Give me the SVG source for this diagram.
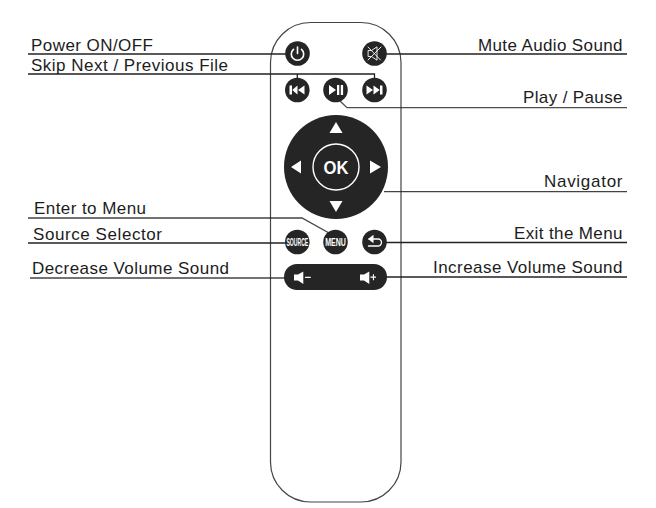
<svg xmlns="http://www.w3.org/2000/svg" width="656" height="508" viewBox="0 0 656 508">
<defs>
<style>
.lbl{font-family:"Liberation Sans",Arial,sans-serif;font-size:17px;fill:#1c1c1c}
.ln{fill:none;stroke:#222;stroke-width:1.3}
.btn{fill:#252525}
.w{fill:#fff}
.ws{fill:none;stroke:#fff;stroke-linecap:round;stroke-linejoin:round}
.btxt{font-family:"Liberation Sans",Arial,sans-serif;font-weight:700;fill:#fff;text-anchor:middle}
</style>
</defs>
<rect width="656" height="508" fill="#fff"/>
<rect id="remote-body" x="270.5" y="22.5" width="130.5" height="479.5" rx="40" ry="40" fill="#fff" stroke="#444" stroke-width="1.2"/>
<g id="connectors">
<path class="ln" d="M28 54H286"/>
<path class="ln" d="M28 74H374.5V79M297.3 74V79"/>
<path class="ln" d="M386 54H627"/>
<path class="ln" d="M340 101L347 107.7H627" stroke-opacity=".8"/>
<path class="ln" d="M384 191.7H627" stroke-opacity=".85"/>
<path class="ln" d="M28 218H302L329 233" stroke-opacity=".85"/>
<path class="ln" d="M28 243H286"/>
<path class="ln" d="M386 242.5H627"/>
<path class="ln" d="M30 278H285" stroke-opacity=".85"/>
<path class="ln" d="M386 277H627"/>
</g>
<g id="power"><circle class="btn" cx="297.5" cy="53.5" r="12.3"/><path class="ws" stroke-width="1.6" d="M293.5 49.3A6.2 6.2 0 1 0 301.5 49.3M297.5 47V53.5"/></g>
<g id="mute"><circle class="btn" cx="374.5" cy="53.5" r="12.3"/><path class="ws" stroke-width=".9" d="M368.5 50.5H371.5L377 46.8V60.2L371.5 56.5H368.5ZM368 47L380.5 60M381 47L368 60"/></g>
<g id="skip-previous"><circle class="btn" cx="297.3" cy="90" r="12.3"/><path class="w" d="M289.5 85.5H292V94.5H289.5ZM297.5 85.5V94.5L292.2 90ZM304.5 85.5V94.5L298 90Z"/></g>
<g id="play-pause"><circle class="btn" cx="335.5" cy="90" r="12.3"/><path class="w" d="M329 85V95L336 90ZM337 85H339.3V95H337ZM340.8 85H343.1V95H340.8Z"/></g>
<g id="skip-next"><circle class="btn" cx="374.5" cy="90" r="12.3"/><path class="w" d="M366.5 85.5V94.5L373 90ZM373.5 85.5V94.5L379.8 90ZM380 85.5H382.5V94.5H380Z"/></g>
<g id="navigator">
<circle class="btn" cx="336" cy="167" r="52"/>
<circle cx="336" cy="167" r="23" fill="none" stroke="#fff" stroke-width="1.4"/>
<path class="w" d="M336 122L342.5 133H329.5ZM336 212L329.5 201H342.5ZM291 167L301 160.5V173.5ZM381 167L370 160.5V173.5Z"/>
<text class="btxt" x="336" y="174" font-size="18" textLength="25" lengthAdjust="spacingAndGlyphs">OK</text>
</g>
<g id="source"><circle class="btn" cx="297.3" cy="242" r="12.3"/><text class="btxt" font-size="8" transform="translate(297.3 246) scale(.64 1.4)">SOURCE</text></g>
<g id="menu"><circle class="btn" cx="335.5" cy="242" r="12.3"/><text class="btxt" font-size="8" transform="translate(335.5 246) scale(.88 1.4)">MENU</text></g>
<g id="back"><circle class="btn" cx="374.5" cy="242" r="12.3"/><path class="ws" stroke-width="1.3" d="M369 239H378A3.4 3.4 0 0 1 378 246H368.5"/><path class="w" d="M373.5 234.8V243.2L368 239Z"/></g>
<g id="volume"><rect class="btn" x="284" y="264" width="103" height="26" rx="13"/>
<path class="w" d="M294 274.5H298L303.3 271.5V284L298 280.5H294ZM305 276.8H310.7V277.9H305Z"/>
<path class="w" d="M360 274.5H364L369.3 271.5V284L364 280.5H360ZM370.5 276.6H372.9V274.2H374V276.6H376V277.7H374V280.2H372.9V277.7H370.5Z"/></g>
<g id="labels">
<text class="lbl" x="31" y="51" textLength="122" lengthAdjust="spacing">Power ON/OFF</text>
<text class="lbl" x="31" y="71" textLength="197" lengthAdjust="spacing">Skip Next / Previous File</text>
<text class="lbl" x="34" y="214" textLength="112" lengthAdjust="spacing">Enter to Menu</text>
<text class="lbl" x="33" y="239.7" textLength="129" lengthAdjust="spacing">Source Selector</text>
<text class="lbl" x="32" y="274.3" textLength="197" lengthAdjust="spacing">Decrease Volume Sound</text>
<text class="lbl" x="478" y="51" textLength="144.5" lengthAdjust="spacing">Mute Audio Sound</text>
<text class="lbl" x="523" y="103" textLength="99.5" lengthAdjust="spacing">Play / Pause</text>
<text class="lbl" x="544" y="186.7" textLength="78.5" lengthAdjust="spacing">Navigator</text>
<text class="lbl" x="514" y="239" textLength="108.5" lengthAdjust="spacing">Exit the Menu</text>
<text class="lbl" x="433" y="272.7" textLength="189.5" lengthAdjust="spacing">Increase Volume Sound</text>
</g>
</svg>
